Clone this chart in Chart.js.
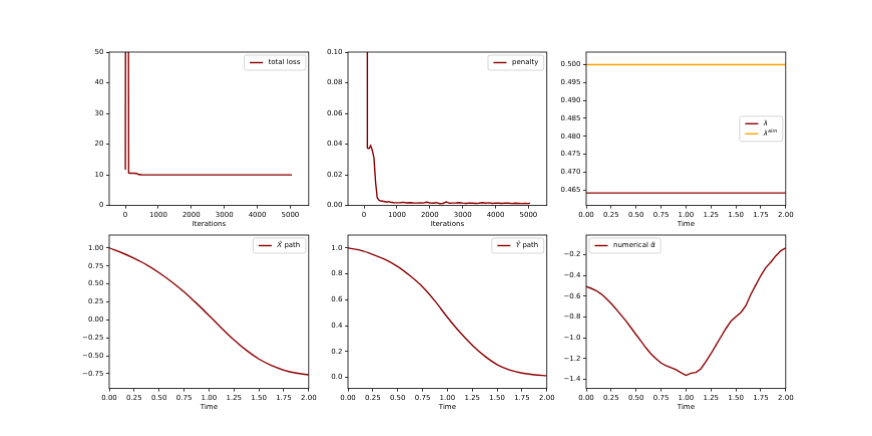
<!DOCTYPE html>
<html><head><meta charset="utf-8">
<script src="https://cdn.jsdelivr.net/npm/chart.js@4/dist/chart.umd.min.js"></script>
<style>
html,body{margin:0;padding:0;background:#fff;width:872px;height:436px;overflow:hidden}
.p{position:absolute}
</style></head><body>
<div class="p" id="d0"><canvas id="c0"></canvas></div>
<div class="p" id="d1"><canvas id="c1"></canvas></div>
<div class="p" id="d2"><canvas id="c2"></canvas></div>
<div class="p" id="d3"><canvas id="c3"></canvas></div>
<div class="p" id="d4"><canvas id="c4"></canvas></div>
<div class="p" id="d5"><canvas id="c5"></canvas></div>
<script>
// ---------- data ----------
const lossIter = [0, 50, 100, 150, 250, 350, 400, 500, 700, 1000, 2000, 3000, 4000, 5000, 5050];
const lossVals = [11.7, 400, 10.55, 10.5, 10.5, 10.45, 10.1, 10.02, 10.0, 10.0, 10.0, 10.0, 10.0, 10.0, 10.0];

const penaltyIter = [0, 90, 100, 150, 200, 250, 300, 350, 400, 450, 500, 600, 700, 750, 800, 900, 1000, 1100, 1200, 1300, 1400, 1500, 1600, 1700, 1800, 1900, 2000, 2100, 2200, 2300, 2400, 2500, 2600, 2700, 2800, 2900, 3000, 3100, 3200, 3300, 3400, 3500, 3600, 3700, 3800, 3900, 4000, 4100, 4200, 4300, 4400, 4500, 4600, 4700, 4800, 4900, 5000, 5050];
const penaltyVals = [5, 0.5, 0.0375, 0.0372, 0.039, 0.036, 0.031, 0.015, 0.005, 0.0035, 0.003, 0.0027, 0.0022, 0.0026, 0.0022, 0.0019, 0.0018, 0.0019, 0.0021, 0.0017, 0.0019, 0.0017, 0.0016, 0.0018, 0.0016, 0.0022, 0.0017, 0.0015, 0.0019, 0.0012, 0.0014, 0.0023, 0.0015, 0.0016, 0.0017, 0.0019, 0.0016, 0.0014, 0.0016, 0.0015, 0.0014, 0.0015, 0.0019, 0.0015, 0.0018, 0.0014, 0.0016, 0.0015, 0.0014, 0.0016, 0.0015, 0.0013, 0.0015, 0.0014, 0.0013, 0.0014, 0.0013, 0.0015];

const lambdaTime = [0, 2];
const lambdaVals = [0.4642, 0.4642];
const lambdaAlmVals = [0.5, 0.5];

const pathTime = [0, 0.125, 0.25, 0.375, 0.5, 0.625, 0.75, 0.875, 1.0, 1.125, 1.25, 1.375, 1.5, 1.625, 1.75, 1.875, 2.0];
const xHatVals = [1.00, 0.935, 0.855, 0.765, 0.655, 0.53, 0.39, 0.23, 0.06, -0.115, -0.28, -0.425, -0.545, -0.635, -0.70, -0.742, -0.765];
const yHatVals = [1.0, 0.982, 0.950, 0.91, 0.857, 0.785, 0.70, 0.59, 0.465, 0.35, 0.25, 0.165, 0.10, 0.058, 0.034, 0.021, 0.014];

const alphaTime = [0, 0.05, 0.1, 0.15, 0.2, 0.25, 0.3, 0.35, 0.4, 0.45, 0.5, 0.55, 0.6, 0.65, 0.7, 0.75, 0.8, 0.85, 0.9, 0.95, 1.0, 1.05, 1.1, 1.15, 1.2, 1.25, 1.3, 1.35, 1.4, 1.45, 1.5, 1.55, 1.6, 1.65, 1.7, 1.75, 1.8, 1.85, 1.9, 1.95, 2.0];
const alphaVals = [-0.506, -0.523, -0.545, -0.577, -0.619, -0.668, -0.723, -0.781, -0.839, -0.903, -0.968, -1.032, -1.097, -1.155, -1.20, -1.242, -1.268, -1.287, -1.306, -1.335, -1.361, -1.339, -1.332, -1.297, -1.226, -1.152, -1.071, -0.990, -0.910, -0.839, -0.797, -0.755, -0.690, -0.581, -0.490, -0.400, -0.323, -0.271, -0.210, -0.161, -0.135];

const iterTicks = [0, 1000, 2000, 3000, 4000, 5000];
const timeTicks = [0, 0.25, 0.5, 0.75, 1.0, 1.25, 1.5, 1.75, 2.0];
const lossTicks = [0, 10, 20, 30, 40, 50];
const penaltyTicks = [0, 0.02, 0.04, 0.06, 0.08, 0.10];
const lambdaTicks = [0.465, 0.470, 0.475, 0.480, 0.485, 0.490, 0.495, 0.500];
const xHatTicks = [-0.75, -0.5, -0.25, 0, 0.25, 0.5, 0.75, 1.0];
const yHatTicks = [0, 0.2, 0.4, 0.6, 0.8, 1.0];
const alphaTicks = [-1.4, -1.2, -1.0, -0.8, -0.6, -0.4, -0.2];

// ---------- styling / layout ----------
const DARK = '#8b0000', ORANGE = '#ffa500';
const FAM = "'DejaVu Sans', sans-serif";
Chart.defaults.font.family = FAM;
Chart.defaults.font.size = 7;
Chart.defaults.color = '#000';
Chart.defaults.animation = false;

const COLS = [[109, 307.8], [347.5, 546.3], [586, 784.8]];
const ROWS = [[52.3, 204.9], [235.4, 388]];
const YW = 50, PT = 8, PR = 20, PB = 5, XH = 23;

function fmt(v, d) {
  const s = Math.abs(v).toFixed(d);
  return (v < -1e-12 ? '\u2212' : '') + s;
}

function axis(min, max, ticks, dec, title, isX) {
  return {
    type: 'linear', min: min, max: max,
    afterBuildTicks: s => { s.ticks = ticks.map(v => ({value: v})); },
    afterFit: s => {
      if (isX) { s.height = XH; s.paddingLeft = 0; s.paddingRight = 0; }
      else { s.width = YW; s.paddingTop = 0; s.paddingBottom = 0; }
    },
    ticks: { callback: v => fmt(v, dec), padding: 2.5, maxRotation: 0, autoSkip: false, font: {size: 7}, color: '#000' },
    grid: { display: true, drawOnChartArea: false, drawTicks: true, tickLength: 3, color: '#000', lineWidth: 0.8 },
    border: { display: false },
    title: isX ? { display: true, text: title, padding: {top: 0, bottom: 0}, font: {size: 7}, color: '#000' } : { display: false }
  };
}

function segFont(s) {
  return (s.italic ? 'italic ' : '') + (s.sup ? 5 : 7) + 'px ' + FAM;
}

const frameLegend = {
  id: 'frameLegend',
  afterDatasetsDraw(chart, args, opts) {
    const a = chart.chartArea, ctx = chart.ctx;
    ctx.save();
    ctx.strokeStyle = '#000'; ctx.lineWidth = 0.8;
    ctx.strokeRect(a.left, a.top, a.right - a.left, a.bottom - a.top);
    const items = opts.items;
    if (items && items.length) {
      const pad = 5.5, hl = 13, gap = 5.5, rowH = 10;
      let tw = 0;
      items.forEach(it => {
        let w = 0;
        it.segs.forEach(s => { ctx.font = segFont(s); w += ctx.measureText(s.t).width; });
        it.w = w; tw = Math.max(tw, w);
      });
      const w = pad + hl + gap + tw + pad;
      const h = items.length * rowH + 5;
      let x, y;
      if (opts.loc === 'upper left') { x = a.left + 3; y = a.top + 3; }
      else if (opts.loc === 'center right') { x = a.right - 3 - w; y = (a.top + a.bottom) / 2 - h / 2; }
      else { x = a.right - 3 - w; y = a.top + 3; }
      const r = 2;
      ctx.beginPath();
      ctx.moveTo(x + r, y); ctx.lineTo(x + w - r, y); ctx.quadraticCurveTo(x + w, y, x + w, y + r);
      ctx.lineTo(x + w, y + h - r); ctx.quadraticCurveTo(x + w, y + h, x + w - r, y + h);
      ctx.lineTo(x + r, y + h); ctx.quadraticCurveTo(x, y + h, x, y + h - r);
      ctx.lineTo(x, y + r); ctx.quadraticCurveTo(x, y, x + r, y); ctx.closePath();
      ctx.fillStyle = 'rgba(255,255,255,0.8)'; ctx.fill();
      ctx.strokeStyle = '#cccccc'; ctx.lineWidth = 0.8; ctx.stroke();
      items.forEach((it, i) => {
        const cy = y + 7.5 + i * rowH;
        ctx.beginPath(); ctx.strokeStyle = it.color; ctx.lineWidth = 1.4;
        ctx.moveTo(x + pad, cy); ctx.lineTo(x + pad + hl, cy); ctx.stroke();
        let tx = x + pad + hl + gap;
        ctx.fillStyle = '#000'; ctx.textBaseline = 'middle'; ctx.textAlign = 'left';
        it.segs.forEach(s => {
          ctx.font = segFont(s);
          ctx.fillText(s.t, tx, s.sup ? cy - 2.5 : cy);
          tx += ctx.measureText(s.t).width;
        });
      });
    }
    ctx.restore();
  }
};

function series(xs, ys, color, smooth) {
  const ds = { data: xs.map((x, i) => ({x: x, y: ys[i]})), borderColor: color, backgroundColor: color,
           borderWidth: 1.4, pointRadius: 0, tension: 0, fill: false };
  if (smooth) ds.cubicInterpolationMode = 'monotone';
  return ds;
}

function make(idx, col, row, datasets, xs, ys, legend) {
  const [L, R] = COLS[col], [T, B] = ROWS[row];
  const d = document.getElementById('d' + idx);
  d.style.left = (L - YW) + 'px';
  d.style.top = (T - PT) + 'px';
  d.style.width = (R - L + YW + PR) + 'px';
  d.style.height = (B - T + PT + XH + PB) + 'px';
  new Chart(document.getElementById('c' + idx), {
    type: 'line',
    data: { datasets: datasets },
    options: {
      responsive: true, maintainAspectRatio: false,
      layout: { padding: {left: 0, top: PT, right: PR, bottom: PB} },
      scales: { x: xs, y: ys },
      plugins: { legend: {display: false}, tooltip: {enabled: false}, frameLegend: legend }
    },
    plugins: [frameLegend]
  });
}

make(0, 0, 0, [series(lossIter, lossVals, DARK)],
  axis(-490, 5560, iterTicks, 0, 'Iterations', true), axis(0, 50, lossTicks, 0, '', false),
  { loc: 'upper right', items: [{color: DARK, segs: [{t: 'total loss'}]}] });

make(1, 1, 0, [series(penaltyIter, penaltyVals, DARK)],
  axis(-490, 5560, iterTicks, 0, 'Iterations', true), axis(0, 0.1, penaltyTicks, 2, '', false),
  { loc: 'upper right', items: [{color: DARK, segs: [{t: 'penalty'}]}] });

make(2, 2, 0, [series(lambdaTime, lambdaVals, DARK), series(lambdaTime, lambdaAlmVals, ORANGE)],
  axis(0, 2, timeTicks, 2, 'Time', true), axis(0.4607, 0.5035, lambdaTicks, 3, '', false),
  { loc: 'center right', items: [
    {color: DARK, segs: [{t: '\u03bb', italic: true}]},
    {color: ORANGE, segs: [{t: '\u03bb', italic: true}, {t: 'alm', italic: true, sup: true}]}] });

make(3, 0, 1, [series(pathTime, xHatVals, DARK, true)],
  axis(0, 2, timeTicks, 2, 'Time', true), axis(-0.956, 1.18, xHatTicks, 2, '', false),
  { loc: 'upper right', items: [{color: DARK, segs: [{t: 'X\u0302', italic: true}, {t: ' path'}]}] });

make(4, 1, 1, [series(pathTime, yHatVals, DARK, true)],
  axis(0, 2, timeTicks, 2, 'Time', true), axis(-0.085, 1.1, yHatTicks, 1, '', false),
  { loc: 'upper right', items: [{color: DARK, segs: [{t: 'Y\u0302', italic: true}, {t: ' path'}]}] });

make(5, 2, 1, [series(alphaTime, alphaVals, DARK)],
  axis(0, 2, timeTicks, 2, 'Time', true), axis(-1.487, -0.01, alphaTicks, 1, '', false),
  { loc: 'upper left', items: [{color: DARK, segs: [{t: 'numerical '}, {t: '\u03b1\u0302', italic: true}]}] });
</script>
</body></html>
